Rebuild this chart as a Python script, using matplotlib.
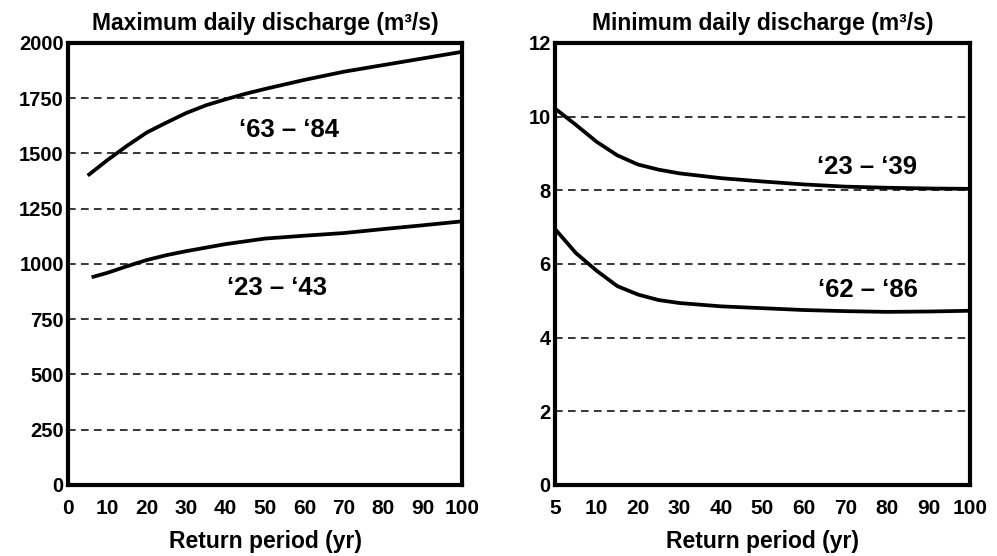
import numpy as np
import matplotlib
matplotlib.use("Agg")
import matplotlib.pyplot as plt

plt.rcParams['font.family'] = ['Liberation Sans', 'DejaVu Sans']
plt.rcParams['font.weight'] = 'bold'

# ---- data ----
max_x_63_84 = [5, 10, 15, 20, 25, 30, 35, 40, 45, 50, 60, 70, 80, 90, 100]
max_y_63_84 = [1400, 1470, 1535, 1595, 1640, 1683, 1718, 1745, 1770, 1792, 1833, 1870, 1900, 1930, 1960]

max_x_23_43 = [6, 10, 15, 20, 25, 30, 40, 50, 60, 70, 80, 90, 100]
max_y_23_43 = [940, 960, 990, 1018, 1040, 1058, 1090, 1115, 1128, 1140, 1158, 1175, 1193]

min_x = [5, 7.5, 10, 15, 20, 25, 30, 40, 50, 60, 70, 80, 90, 100]
min_y_23_39 = [10.22, 9.78, 9.32, 8.95, 8.7, 8.56, 8.46, 8.33, 8.24, 8.16, 8.1, 8.07, 8.05, 8.04]
min_y_62_86 = [6.95, 6.3, 5.82, 5.4, 5.17, 5.02, 4.94, 4.85, 4.8, 4.75, 4.72, 4.7, 4.71, 4.73]

left_xticks = [0, 10, 20, 30, 40, 50, 60, 70, 80, 90, 100]
left_yticks = [0, 250, 500, 750, 1000, 1250, 1500, 1750, 2000]
right_xticks = [5, 10, 20, 30, 40, 50, 60, 70, 80, 90, 100]
right_yticks = [0, 2, 4, 6, 8, 10, 12]

left_title = "Maximum daily discharge (m\u00b3/s)"
right_title = "Minimum daily discharge (m\u00b3/s)"
xlabel = "Return period (yr)"
labels_left = ["\u201863 \u2013 \u201884", "\u201823 \u2013 \u201843"]
labels_right = ["\u201823 \u2013 \u201839", "\u201862 \u2013 \u201886"]

fig = plt.figure(figsize=(9.97, 5.56), dpi=100)
axL = fig.add_axes([0.0682, 0.1277, 0.3952, 0.795])
axR = fig.add_axes([0.5567, 0.1277, 0.4162, 0.795])

pos = np.arange(len(right_xticks), dtype=float)
def fwd(x):
    return np.interp(x, right_xticks, pos)
def inv(p):
    return np.interp(p, pos, right_xticks)
axR.set_xscale('function', functions=(fwd, inv))

def style(ax, yticks, ylim, xticks, xlim):
    ax.set_xlim(*xlim)
    ax.set_ylim(*ylim)
    ax.set_xticks(xticks)
    ax.set_yticks(yticks)
    ax.set_xticklabels([str(t) for t in xticks], fontsize=15, fontweight='bold')
    ax.set_yticklabels([str(t) for t in yticks], fontsize=14.5, fontweight='bold')
    ax.tick_params(length=0, pad=3)
    ax.tick_params(axis='x', pad=10)
    for s in ax.spines.values():
        s.set_linewidth(3)
        s.set_color('black')
    for t in yticks[1:-1]:
        ax.axhline(t, color='black', lw=1.1, ls=(0, (5, 3.5)), zorder=1)
    ax.set_xlabel(xlabel, fontsize=16.5, fontweight='bold', labelpad=9)

style(axL, left_yticks, (0, 2000), left_xticks, (0, 100))
style(axR, right_yticks, (0, 12), right_xticks, (5, 100))

for xs, ys, ax in [(max_x_63_84, max_y_63_84, axL), (max_x_23_43, max_y_23_43, axL),
                   (min_x, min_y_23_39, axR), (min_x, min_y_62_86, axR)]:
    ax.plot(xs, ys, color='black', lw=2.7, zorder=3, solid_capstyle='butt',
            solid_joinstyle='round')

axL.text(56, 1606, labels_left[0], fontsize=18.5, fontweight='bold', ha='center', va='center')
axL.text(53, 892, labels_left[1], fontsize=18.5, fontweight='bold', ha='center', va='center')
axR.text(75.3, 8.63, labels_right[0], fontsize=18.5, fontweight='bold', ha='center', va='center')
axR.text(75.3, 5.29, labels_right[1], fontsize=18.5, fontweight='bold', ha='center', va='center')

axL.set_title(left_title, fontsize=16.5, fontweight='bold', pad=9)
axR.set_title(right_title, fontsize=16.5, fontweight='bold', pad=9)

fig.savefig("out.png", dpi=100)
